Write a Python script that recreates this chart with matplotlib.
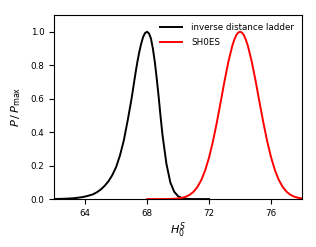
import numpy as np
import matplotlib
matplotlib.use("Agg")
import matplotlib.pyplot as plt

# Normalised posteriors
h0_idl = [62.0, 62.25, 62.5, 62.75, 63.0, 63.25, 63.5, 63.75, 64.0, 64.25,
          64.5, 64.75, 65.0, 65.25, 65.5, 65.75, 66.0, 66.25, 66.5, 66.75,
          67.0, 67.125, 67.25, 67.375, 67.5, 67.625, 67.75, 67.875, 68.0,
          68.125, 68.25, 68.375, 68.5, 68.625, 68.75, 68.875, 69.0, 69.25,
          69.5, 69.75, 70.0, 70.25, 70.5, 70.75, 71.0, 71.5, 72.0]
p_idl = [0.0007, 0.001, 0.0016, 0.0024, 0.0035, 0.005, 0.0075, 0.0107, 0.015, 0.021,
         0.028, 0.040, 0.056, 0.078, 0.105, 0.142, 0.19, 0.26, 0.35, 0.47,
         0.60, 0.675, 0.75, 0.82, 0.88, 0.93, 0.97, 0.993, 1.0,
         0.99, 0.96, 0.90, 0.82, 0.72, 0.61, 0.49, 0.38, 0.21,
         0.10, 0.044, 0.017, 0.006, 0.002, 0.0005, 0.0, 0.0, 0.0]

h0_shoes = [68.0, 68.5, 69.0, 69.25, 69.5, 69.75, 70.0, 70.25, 70.5, 70.75,
            71.0, 71.25, 71.5, 71.75, 72.0, 72.25, 72.5, 72.75, 73.0, 73.25,
            73.5, 73.625, 73.75, 73.875, 74.0, 74.125, 74.25, 74.375, 74.5,
            74.75, 75.0, 75.25, 75.5, 75.75, 76.0, 76.25, 76.5, 76.75, 77.0,
            77.25, 77.5, 77.75, 78.0]
p_shoes = [0.0, 0.0, 0.0002, 0.0004, 0.0009, 0.0019, 0.0039, 0.0076, 0.0142, 0.0255,
           0.0439, 0.0724, 0.114, 0.172, 0.249, 0.345, 0.458, 0.581, 0.707, 0.823,
           0.917, 0.952, 0.979, 0.995, 1.0, 0.995, 0.979, 0.952, 0.917,
           0.823, 0.707, 0.581, 0.458, 0.345, 0.249, 0.172, 0.114, 0.0724, 0.0439,
           0.0255, 0.0142, 0.0076, 0.0039]

xticks = [64, 68, 72, 76]
yticks = [0.0, 0.2, 0.4, 0.6, 0.8, 1.0]

plt.rcParams['font.size'] = 6.3
fig = plt.figure(figsize=(3.16, 2.47), dpi=100)
ax = fig.add_axes([0.171, 0.194, 0.785, 0.745])

ax.plot(h0_idl, p_idl, color='black', lw=1.4, label='inverse distance ladder')
ax.plot(h0_shoes, p_shoes, color='red', lw=1.4, label='SH0ES')

ax.set_xlim(62, 78)
ax.set_ylim(0, 1.1)
ax.set_xticks(xticks)
ax.set_yticks(yticks)
ax.set_xlabel(r'$H_0^S$', fontsize=8, labelpad=2)
ax.set_ylabel(r'$P\,/\,P_{\max}$', fontsize=8.2, labelpad=5)
ax.legend(loc='upper right', frameon=False, fontsize=6.3,
          handlelength=2.6, handletextpad=1.0, labelspacing=0.7)

fig.savefig("out.png", dpi=100)
